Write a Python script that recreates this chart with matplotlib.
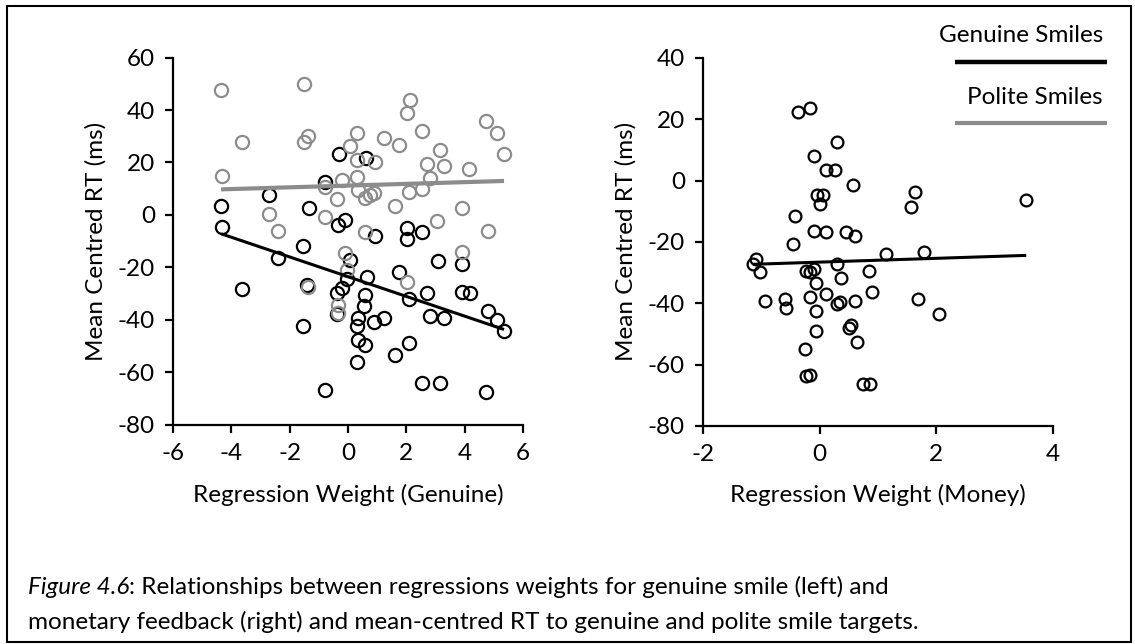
import matplotlib
matplotlib.use("Agg")
import matplotlib.pyplot as plt
from matplotlib.lines import Line2D
from matplotlib.patches import Rectangle
import numpy as np

plt.rcParams['font.family'] = ['Lato', 'DejaVu Sans']
plt.rcParams['axes.unicode_minus'] = False

# ---- Left panel: regression weight (genuine) vs mean-centred RT ----
genuine_x = [-4.35, -4.33, -3.64, -2.70, -2.39, -1.53, -1.42, -1.53, -1.33, -0.79,
             -0.79, -0.31, -0.10, -0.33, 0.07, -0.04, -0.22, -0.39, -0.39, 0.61,
             0.64, 0.58, 0.55, 0.35, 0.30, 0.35, 0.58, 0.30, 0.89, 0.93,
             2.01, 2.01, 2.55, 3.08, 3.92, 1.76, 2.10, 2.72, 3.90, 4.18,
             4.79, 5.10, 5.35, 2.81, 3.30, 1.23, 2.10, 1.61, 2.55, 3.15, 4.73]
genuine_rt = [3.6, -4.4, -28.2, 7.6, -16.5, -11.8, -26.7, -42.3, 2.8, 12.7,
              -66.7, 23.2, -1.9, -3.8, -17.1, -24.5, -27.9, -29.6, -37.7, 21.6,
              -23.5, -30.5, -34.7, -39.4, -42.3, -47.6, -49.5, -55.9, -40.6, -8.0,
              -5.1, -9.3, -6.6, -17.4, -18.8, -21.8, -32.1, -29.8, -29.2, -29.8,
              -36.6, -40.0, -44.1, -38.5, -39.4, -39.1, -48.6, -53.3, -64.1, -64.1, -67.3]

polite_x = [-4.35, -1.51, -3.64, -1.38, -1.51, 0.30, 0.07, 0.30, -4.33, -0.79,
            -0.22, 0.30, 0.35, -0.37, 0.58, -2.70, -0.79, -2.39, 0.58, 2.13,
            2.01, 2.53, 4.73, 5.10, 1.23, 1.76, 5.35, 3.15, 0.93, 2.72,
            3.29, 4.16, 2.81, 2.55, 2.10, 0.75, 0.90, 1.61, 3.92, 3.06,
            4.79, -0.10, -0.04, -1.36, -0.33, -0.33, 3.92, 2.01]
polite_rt = [47.6, 49.8, 27.7, 30.2, 27.7, 31.1, 26.3, 21.0, 14.9, 10.8,
             13.3, 14.4, 9.5, 6.1, 6.3, 0.4, -0.6, -6.0, -6.3, 43.8,
             39.0, 32.1, 35.9, 31.1, 29.2, 26.7, 23.2, 24.8, 20.3, 19.3,
             18.8, 17.5, 14.0, 9.8, 8.9, 7.5, 8.5, 3.4, 2.8, -2.2,
             -6.0, -14.6, -21.0, -27.3, -34.3, -37.2, -14.0, -25.4]

# linear trend lines (slope, intercept)
genuine_fit = (-3.76, -23.5)
polite_fit = (0.33, 11.2)

# ---- Right panel: regression weight (money) vs mean-centred RT ----
money_x = [-1.14, -1.10, -1.03, -0.93, -0.60, -0.57, -0.46, -0.43, -0.37, -0.17,
           -0.26, -0.23, -0.17, -0.23, -0.09, -0.17, -0.06, -0.17, -0.06, -0.06,
           -0.09, -0.09, -0.05, 0.05, 0.00, 0.11, 0.27, 0.29, 0.11, 0.45,
           0.60, 0.57, 0.11, 0.29, 0.37, 0.34, 0.29, 0.60, 0.85, 0.89,
           0.54, 0.50, 0.64, 0.74, 0.86, 1.13, 1.63, 1.56, 1.79, 1.68,
           2.05, 3.54]
money_rt = [-27.3, -25.5, -29.8, -39.2, -38.5, -41.6, -20.8, -11.6, 22.5, 23.6,
            -55.0, -63.6, -63.3, -29.5, -28.7, -29.8, -33.5, -37.9, -42.5, -49.2,
            -16.3, 7.9, -4.8, -4.6, -7.5, 3.6, 3.3, 12.6, -16.7, -16.7,
            -18.1, -1.3, -36.9, -27.3, -31.7, -39.6, -40.3, -39.2, -29.5, -36.2,
            -47.0, -48.1, -52.8, -66.3, -66.3, -24.1, -3.8, -8.7, -23.3, -38.7,
            -43.4, -6.2]
money_fit = (0.62, -26.6)

left_xticks = [-6, -4, -2, 0, 2, 4, 6]
left_yticks = [-80, -60, -40, -20, 0, 20, 40, 60]
right_xticks = [-2, 0, 2, 4]
right_yticks = [-80, -60, -40, -20, 0, 20, 40]

BLACK = '#000000'
GREY = '#8c8c8c'
TICK_FS = 17.5
LABEL_FS = 17.5

fig = plt.figure(figsize=(11.35, 6.44), dpi=100)
ax1 = fig.add_axes([0.1524, 0.3401, 0.3084, 0.5706])
ax2 = fig.add_axes([0.6194, 0.3387, 0.3084, 0.5714])


def style_axis(ax, xticks, yticks, xlabel):
    ax.set_xlim(xticks[0], xticks[-1])
    ax.set_ylim(yticks[0], yticks[-1])
    ax.set_xticks(xticks)
    ax.set_yticks(yticks)
    for side in ('top', 'right'):
        ax.spines[side].set_visible(False)
    for side in ('left', 'bottom'):
        ax.spines[side].set_linewidth(1.6)
        ax.spines[side].set_color(BLACK)
        ax.spines[side].set_capstyle('projecting')
    ax.tick_params(direction='out', length=6, width=1.6, labelsize=TICK_FS,
                   pad=7, colors=BLACK)
    ax.set_xlabel(xlabel, fontsize=LABEL_FS, labelpad=14)
    ax.set_ylabel('Mean Centred RT (ms)', fontsize=LABEL_FS, labelpad=8)


def trend(ax, xs, fit, color, lw):
    xr = np.array([min(xs), max(xs)])
    ax.plot(xr, fit[0] * xr + fit[1], color=color, lw=lw,
            solid_capstyle='butt', zorder=4, clip_on=False)


ms = 9.5
ax1.plot(genuine_x, genuine_rt, 'o', mfc='none', mec=BLACK, mew=1.6, ms=ms,
         zorder=2, clip_on=False)
ax1.plot(polite_x, polite_rt, 'o', mfc='none', mec=GREY, mew=1.6, ms=ms,
         zorder=3, clip_on=False)
trend(ax1, genuine_x, genuine_fit, BLACK, 2.2)
trend(ax1, polite_x, polite_fit, GREY, 3.0)
style_axis(ax1, left_xticks, left_yticks, 'Regression Weight (Genuine)')

ax2.plot(money_x, money_rt, 'o', mfc='none', mec=BLACK, mew=1.6, ms=8.5,
         zorder=2, clip_on=False)
trend(ax2, money_x, money_fit, BLACK, 2.2)
style_axis(ax2, right_xticks, right_yticks, 'Regression Weight (Money)')

# legend: labels stacked above their line samples
W, H = 1135.0, 644.0
fig.text(1103 / W, 1 - 35 / H, 'Genuine Smiles', ha='right', va='center',
         fontsize=LABEL_FS)
fig.add_artist(Line2D([955 / W, 1107 / W], [1 - 62 / H, 1 - 62 / H],
                      color=BLACK, lw=3.2, solid_capstyle='butt'))
fig.text(1103 / W, 1 - 97 / H, 'Polite Smiles', ha='right', va='center',
         fontsize=LABEL_FS)
fig.add_artist(Line2D([955 / W, 1107 / W], [1 - 123 / H, 1 - 123 / H],
                      color=GREY, lw=3.0, solid_capstyle='butt'))

# caption
cap_x = 28 / W
t0 = fig.text(cap_x, 1 - 587 / H, 'Figure 4.6', ha='left', va='center',
              fontsize=LABEL_FS, style='italic')
fig.canvas.draw()
bb = t0.get_window_extent()
fig.text(bb.x1 / W, 1 - 587 / H,
         ': Relationships between regressions weights for genuine smile (left) and',
         ha='left', va='center', fontsize=LABEL_FS)
fig.text(cap_x, 1 - 622 / H,
         'monetary feedback (right) and mean-centred RT to genuine and polite smile targets.',
         ha='left', va='center', fontsize=LABEL_FS)

# outer frame
fig.add_artist(Rectangle((7 / W, 2 / H), 1124 / W, 636 / H, fill=False,
                         ec=BLACK, lw=1.5, transform=fig.transFigure))

fig.savefig('out.png', dpi=100, facecolor='white')
